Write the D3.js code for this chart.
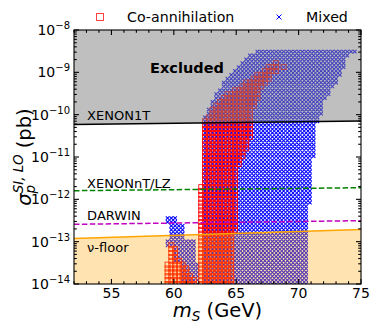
<!DOCTYPE html>
<html><head><meta charset="utf-8">
<script src="https://cdn.jsdelivr.net/npm/d3@7"></script>
<style>body{margin:0;background:#fff} text{font-family:"DejaVu Sans",sans-serif}</style>
</head><body><svg id="c" width="374" height="326"></svg>
<script>
// ---------------- data ----------------
const xDomain = [52, 75];
const yDomain = [1e-14, 1e-8];
const xTicks = [55, 60, 65, 70, 75];
const yTickExps = [-14, -13, -12, -11, -10, -9, -8];
const legendLabels = ["Co-annihilation", "Mixed"];

// experimental limits [mS (GeV), sigma (pb)]
const xenon1T = [[52, 5.85e-11], [75, 7.1e-11]];
const xenonNT = [[52, 1.6e-12], [75, 1.88e-12]];
const darwin  = [[52, 2.57e-13], [75, 3.13e-13]];
const nuFloor = [[52, 1.19e-13], [75, 1.95e-13]];

// scan grid of the parameter points
const mixedGrid = {m0: 52, dm: 0.3, l0: -14, dl: 0.0915, n: 61};
const coannGrid = {m0: 52, dm: 0.3, l0: -14, dl: 0.0915, n: 61};

// occupied regions of the scan: [log10 sigma lo, log10 sigma hi, mS lo, mS hi]
const mixedRegions = [
  [-14.00, -12.13, 62.4, 70.8],
  [-12.13, -11.07, 62.4, 71.05],
  [-11.07, -10.83, 62.4, 71.2],
  [-10.83, -10.20, 62.4, 71.45],
  [-10.20, -10.11, 62.4, 71.6],
  [-10.11, -10.02, 62.5, 71.7],
  [-10.02, -9.93, 62.7, 71.8],
  [-9.93, -9.84, 62.8, 71.85],
  [-9.84, -9.75, 62.9, 71.9],
  [-9.75, -9.66, 63.0, 72.0],
  [-9.66, -9.57, 63.2, 72.2],
  [-9.57, -9.48, 63.4, 72.4],
  [-9.48, -9.39, 63.5, 72.6],
  [-9.39, -9.29, 63.8, 72.8],
  [-9.29, -9.20, 64.0, 73.0],
  [-9.20, -9.11, 64.3, 73.2],
  [-9.11, -9.02, 64.6, 73.4],
  [-9.02, -8.93, 64.8, 73.5],
  [-8.93, -8.84, 65.1, 73.6],
  [-8.84, -8.74, 65.4, 73.7],
  [-8.74, -8.65, 65.6, 73.8],
  [-8.65, -8.56, 65.9, 74.0],
  [-8.56, -8.47, 66.5, 74.7],
  // low-mass island
  [-12.50, -12.40, 59.45, 60.2],
  [-12.58, -12.50, 59.45, 60.2],
  [-12.95, -12.58, 59.8, 60.7],
  [-13.13, -12.95, 59.4, 61.7],
  [-13.50, -13.13, 60.1, 61.8],
  [-14.00, -13.50, 60.7, 61.9]
];
const coannRegions = [
  [-8.83, -8.74, 68.1, 68.3],
  [-8.92, -8.83, 67.6, 68.3],
  [-8.92, -8.83, 68.8, 69.0],
  [-9.01, -8.92, 67.1, 68.2],
  [-9.10, -9.01, 66.6, 67.8],
  [-9.19, -9.10, 66.2, 67.6],
  [-9.28, -9.19, 65.8, 67.4],
  [-9.38, -9.28, 65.3, 67.1],
  [-9.47, -9.38, 64.7, 66.9],
  [-9.56, -9.47, 64.1, 66.8],
  [-9.65, -9.56, 63.8, 66.7],
  [-9.74, -9.65, 63.6, 66.6],
  [-9.83, -9.74, 63.4, 66.4],
  [-9.92, -9.83, 63.1, 66.3],
  [-10.02, -9.92, 62.9, 66.2],
  [-10.11, -10.02, 62.7, 66.2],
  [-10.20, -10.11, 62.5, 66.3],
  [-10.53, -10.20, 62.4, 66.2],
  [-10.80, -10.53, 62.4, 65.9],
  [-11.00, -10.80, 62.4, 65.7],
  [-11.19, -11.00, 62.4, 65.3],
  [-11.68, -11.19, 62.4, 65.0],
  [-12.72, -11.68, 62.1, 65.0],
  [-14.00, -12.72, 62.1, 64.7],
  // low-mass island
  [-13.13, -13.05, 59.8, 60.0],
  [-13.41, -13.13, 59.8, 60.3],
  [-13.50, -13.41, 59.8, 60.6],
  [-13.59, -13.50, 59.5, 60.9],
  [-13.68, -13.59, 59.5, 61.0],
  [-13.77, -13.68, 59.5, 61.2],
  [-13.86, -13.77, 59.5, 61.4],
  [-13.95, -13.86, 59.5, 61.6],
  [-14.05, -13.95, 59.5, 61.8]
];

// ---------------- chart ----------------
const M = {l: 74, r: 361, t: 30, b: 284};
const svg = d3.select('#c');
const x = d3.scaleLinear().domain(xDomain).range([M.l, M.r]);
const y = d3.scaleLog().domain(yDomain).range([M.b, M.t]);

function pointsIn(regions, g) {
  const pts = [];
  for (let k = 0; k < g.n; k++) {
    const l = g.l0 + k * g.dl;
    for (let j = 0; j <= Math.round((xDomain[1] - g.m0) / g.dm); j++) {
      const m = g.m0 + j * g.dm;
      if (regions.some(r => l >= r[0] - 1e-9 && l < r[1] && m >= r[2] - 1e-9 && m <= r[3] + 1e-9)) pts.push([m, Math.pow(10, l)]);
    }
  }
  return pts;
}

svg.append('defs').append('clipPath').attr('id', 'clip')
  .append('rect').attr('x', M.l).attr('y', M.t).attr('width', M.r - M.l).attr('height', M.b - M.t);

const plot = svg.append('g').attr('clip-path', 'url(#clip)');

const coPts = pointsIn(coannRegions, coannGrid);
const mixPts = pointsIn(mixedRegions, mixedGrid);
const sq = 5.0, xs = 1.8;
plot.append('g').selectAll('path').data(mixPts).join('path')
  .attr('d', d => { const cx = x(d[0]), cy = y(d[1]);
    return `M${cx - xs},${cy - xs}L${cx + xs},${cy + xs}M${cx - xs},${cy + xs}L${cx + xs},${cy - xs}`; })
  .attr('stroke', 'blue').attr('stroke-width', 1.05).attr('fill', 'none');
plot.append('g').selectAll('rect').data(coPts).join('rect')
  .attr('x', d => x(d[0]) - sq / 2).attr('y', d => y(d[1]) - sq / 2)
  .attr('width', sq).attr('height', sq)
  .attr('fill', 'none').attr('stroke', 'red').attr('stroke-width', 0.85);

// excluded region and neutrino floor
plot.append('path').datum(xenon1T)
  .attr('d', d3.area().x(d => x(d[0])).y0(y(yDomain[1])).y1(d => y(d[1])))
  .attr('fill', 'gray').attr('fill-opacity', 0.5);
plot.append('path').datum(nuFloor)
  .attr('d', d3.area().x(d => x(d[0])).y0(y(yDomain[0])).y1(d => y(d[1])))
  .attr('fill', 'orange').attr('fill-opacity', 0.3);

const line = d3.line().x(d => x(d[0])).y(d => y(d[1]));
plot.append('path').datum(xenon1T).attr('d', line).attr('fill', 'none').attr('stroke', 'black').attr('stroke-width', 1.5);
plot.append('path').datum(xenonNT).attr('d', line).attr('fill', 'none').attr('stroke', 'green').attr('stroke-width', 1.5).attr('stroke-dasharray', '5.5,2.4');
plot.append('path').datum(darwin).attr('d', line).attr('fill', 'none').attr('stroke', '#bf00bf').attr('stroke-width', 1.5).attr('stroke-dasharray', '5.5,2.4');
plot.append('path').datum(nuFloor).attr('d', line).attr('fill', 'none').attr('stroke', 'orange').attr('stroke-width', 1.5);

// region labels
const lab = (t, px, py, extra) => {
  const e = svg.append('text').attr('x', px).attr('y', py).attr('font-size', 13).attr('fill', 'black').text(t);
  if (extra) extra(e);
  return e;
};
lab('Excluded', x(58.1), y(1e-9) + 0.5, e => e.attr('font-weight', 'bold').attr('font-size', 14.5));
lab('XENON1T', x(53.05), 119.5);
lab('XENONnT/LZ', x(53.05), 188);
lab('DARWIN', x(53.05), 219.5);
lab('\u03bd-floor', x(53.05), 251.5);

// axes frame
svg.append('rect').attr('x', M.l).attr('y', M.t).attr('width', M.r - M.l).attr('height', M.b - M.t)
  .attr('fill', 'none').attr('stroke', 'black').attr('stroke-width', 1.1);

const ticksG = svg.append('g').attr('stroke', 'black').attr('stroke-width', 1.1);
const xMinor = d3.range(Math.ceil(xDomain[0]), xDomain[1] + 0.001, 1).filter(v => !xTicks.includes(v));
xTicks.forEach(v => {
  ticksG.append('line').attr('x1', x(v)).attr('x2', x(v)).attr('y1', M.b).attr('y2', M.b - 5);
  ticksG.append('line').attr('x1', x(v)).attr('x2', x(v)).attr('y1', M.t).attr('y2', M.t + 5);
});
xMinor.forEach(v => {
  ticksG.append('line').attr('x1', x(v)).attr('x2', x(v)).attr('y1', M.b).attr('y2', M.b - 2.8);
  ticksG.append('line').attr('x1', x(v)).attr('x2', x(v)).attr('y1', M.t).attr('y2', M.t + 2.8);
});
yTickExps.forEach(e => {
  const v = Math.pow(10, e);
  ticksG.append('line').attr('y1', y(v)).attr('y2', y(v)).attr('x1', M.l).attr('x2', M.l + 5);
  ticksG.append('line').attr('y1', y(v)).attr('y2', y(v)).attr('x1', M.r).attr('x2', M.r - 5);
  if (e < -8) for (let k = 2; k <= 9; k++) {
    const w = k * v;
    ticksG.append('line').attr('y1', y(w)).attr('y2', y(w)).attr('x1', M.l).attr('x2', M.l + 2.8);
    ticksG.append('line').attr('y1', y(w)).attr('y2', y(w)).attr('x1', M.r).attr('x2', M.r - 2.8);
  }
});

// tick labels
xTicks.forEach(v => svg.append('text').attr('x', x(v)).attr('y', 297.5).attr('text-anchor', 'middle')
  .attr('font-size', 14).text(v));
yTickExps.forEach(e => {
  const t = svg.append('text').attr('x', 70).attr('y', y(Math.pow(10, e)) + 5).attr('text-anchor', 'end').attr('font-size', 14);
  t.append('tspan').text('10');
  t.append('tspan').attr('font-size', 10).attr('dy', -6).text('\u2212' + Math.abs(e));
});

// axis labels
const xl = svg.append('text').attr('x', (M.l + M.r) / 2).attr('y', 317).attr('text-anchor', 'middle').attr('font-size', 19.5);
xl.append('tspan').attr('font-style', 'italic').text('m');
xl.append('tspan').attr('font-style', 'italic').attr('font-size', 13.5).attr('dy', 4).text('S');
xl.append('tspan').attr('dy', -4).text(' (GeV)');

const yl = svg.append('text').attr('transform', `translate(31,${(M.t + M.b) / 2}) rotate(-90)`)
  .attr('text-anchor', 'middle').attr('font-size', 19.5);
yl.append('tspan').attr('font-style', 'italic').text('\u03c3');
yl.append('tspan').attr('font-style', 'italic').attr('font-size', 13.5).attr('dy', 4).text('p');
yl.append('tspan').attr('font-style', 'italic').attr('font-size', 13.5).attr('dx', -8.5).attr('dy', -12).text('SI, LO');
yl.append('tspan').attr('dy', 8).text(' (pb)');

// legend
const lg = svg.append('g');
lg.append('rect').attr('x', 100 - 3.5).attr('y', 17 - 3.5).attr('width', 7).attr('height', 7)
  .attr('fill', 'none').attr('stroke', 'red').attr('stroke-opacity', 0.75).attr('stroke-width', 1);
lg.append('text').attr('x', 127).attr('y', 22).attr('font-size', 14.2).text(legendLabels[0]);
lg.append('path').attr('d', 'M276.5,14.5L281.5,19.5M276.5,19.5L281.5,14.5').attr('stroke', 'blue').attr('stroke-width', 1);
lg.append('text').attr('x', 306).attr('y', 22).attr('font-size', 14.2).text(legendLabels[1]);
</script></body></html>
